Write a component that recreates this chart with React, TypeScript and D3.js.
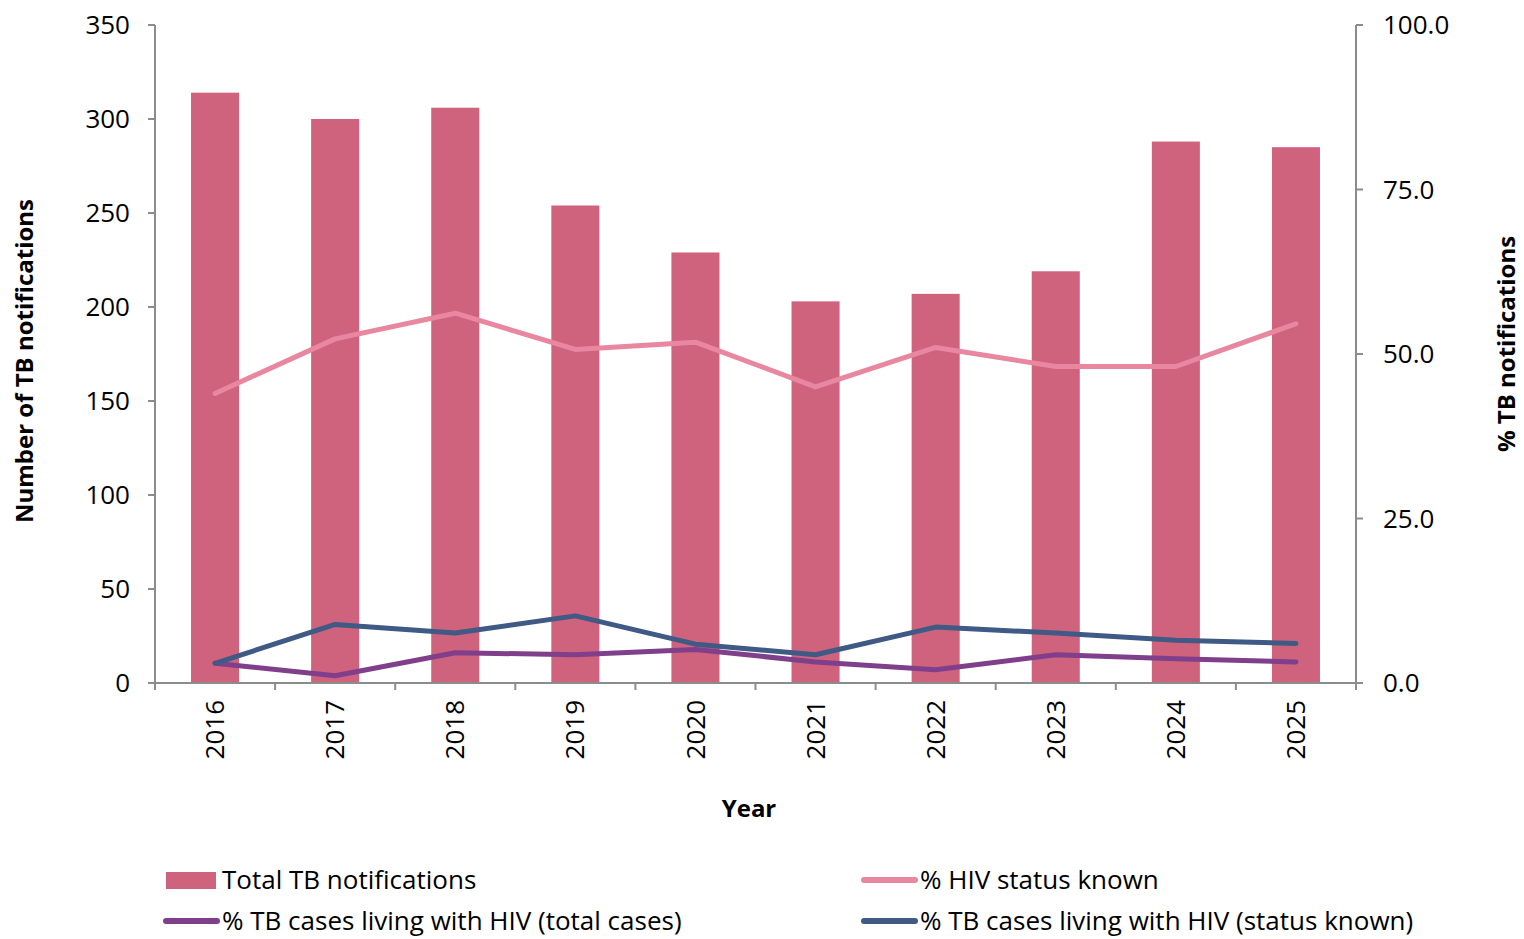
import React from "react";
import * as d3 from "d3";

const years = ["2016", "2017", "2018", "2019", "2020", "2021", "2022", "2023", "2024", "2025"];
const totalNotifications = [314, 300, 306, 254, 229, 203, 207, 219, 288, 285];
const hivStatusKnown = [44.0, 52.3, 56.2, 50.7, 51.8, 45.0, 51.0, 48.1, 48.1, 54.6];
const hivTotalCases = [3.0, 1.1, 4.6, 4.3, 5.1, 3.2, 2.0, 4.3, 3.7, 3.2];
const hivStatusKnownCases = [3.0, 8.9, 7.6, 10.2, 5.9, 4.3, 8.5, 7.6, 6.5, 6.0];
const leftTicks = [0, 50, 100, 150, 200, 250, 300, 350];
const rightTicks = [0, 25, 50, 75, 100];

const FONT = "'Open Sans', sans-serif";
const AXIS = "#8c8c8c";
const BAR = "#cf627c";
const PINK = "#e8879f";
const PURPLE = "#803f8b";
const BLUE = "#3e5a85";

export default function App() {
  const W = 1524, H = 939;
  const left = 155, right = 1356, top = 25, bottom = 683;
  const x = d3.scaleBand<string>().domain(years).range([left, right]).paddingInner(0.6).paddingOuter(0.3);
  const xc = (d: string) => (x(d) as number) + x.bandwidth() / 2;
  const yL = d3.scaleLinear().domain([0, 350]).range([bottom, top]);
  const yR = d3.scaleLinear().domain([0, 100]).range([bottom, top]);
  const step = (right - left) / years.length;
  const line = (vals: number[]) =>
    d3.line<number>().x((_, i) => xc(years[i])).y((v) => yR(v))(vals) as string;

  const legend = [
    { type: "rect", color: BAR, label: "Total TB notifications", x: 166, y: 880 },
    { type: "line", color: PINK, label: "% HIV status known", x: 864, y: 880 },
    { type: "line", color: PURPLE, label: "% TB cases living with HIV (total cases)", x: 166, y: 921 },
    { type: "line", color: BLUE, label: "% TB cases living with HIV (status known)", x: 864, y: 921 },
  ];
  const FS = 26;
  const BFS = 24;

  return (
    <svg width={W} height={H} style={{ position: "absolute", left: 0, top: 0, background: "#fff" }} fontFamily={FONT}>
      {years.map((yr, i) => (
        <rect key={yr} x={x(yr)} y={yL(totalNotifications[i])} width={x.bandwidth()} height={bottom - yL(totalNotifications[i])} fill={BAR} />
      ))}
      <path d={line(hivStatusKnown)} fill="none" stroke={PINK} strokeWidth={5} strokeLinejoin="round" strokeLinecap="round" />
      <path d={line(hivTotalCases)} fill="none" stroke={PURPLE} strokeWidth={5} strokeLinejoin="round" strokeLinecap="round" />
      <path d={line(hivStatusKnownCases)} fill="none" stroke={BLUE} strokeWidth={5} strokeLinejoin="round" strokeLinecap="round" />

      <line x1={left} x2={left} y1={top} y2={bottom} stroke={AXIS} strokeWidth={2} />
      {leftTicks.map((t) => (
        <g key={t}>
          <line x1={left - 7} x2={left} y1={yL(t)} y2={yL(t)} stroke={AXIS} strokeWidth={2} />
          <text x={130} y={yL(t)} dy="0.35em" textAnchor="end" fontSize={FS} fill="#000">{t}</text>
        </g>
      ))}
      <line x1={right} x2={right} y1={top} y2={bottom} stroke={AXIS} strokeWidth={2} />
      {rightTicks.map((t) => (
        <g key={t}>
          <line x1={right} x2={right + 7} y1={yR(t)} y2={yR(t)} stroke={AXIS} strokeWidth={2} />
          <text x={1383} y={yR(t)} dy="0.35em" textAnchor="start" fontSize={FS} fill="#000">{t.toFixed(1)}</text>
        </g>
      ))}
      <line x1={left} x2={right} y1={bottom} y2={bottom} stroke={AXIS} strokeWidth={2} />
      {d3.range(years.length + 1).map((i) => (
        <line key={i} x1={left + i * step} x2={left + i * step} y1={bottom} y2={bottom + 7} stroke={AXIS} strokeWidth={2} />
      ))}
      {years.map((yr) => (
        <text key={yr} transform={`translate(${xc(yr)},700) rotate(-90)`} dy="0.35em" textAnchor="end" fontSize={FS} fill="#000">{yr}</text>
      ))}

      <text transform="translate(25,361) rotate(-90)" dy="0.35em" textAnchor="middle" fontSize={BFS} fontWeight="bold" fill="#000">Number of TB notifications</text>
      <text transform="translate(1507,344) rotate(-90)" dy="0.35em" textAnchor="middle" fontSize={BFS} fontWeight="bold" fill="#000">% TB notifications</text>
      <text x={749} y={809} dy="0.35em" textAnchor="middle" fontSize={BFS} fontWeight="bold" fill="#000">Year</text>

      {legend.map((l) => (
        <g key={l.label}>
          {l.type === "rect" ? (
            <rect x={l.x} y={l.y - 8} width={50} height={17} fill={l.color} />
          ) : (
            <line x1={l.x} x2={l.x + 51} y1={l.y} y2={l.y} stroke={l.color} strokeWidth={6} strokeLinecap="round" />
          )}
          <text x={l.x + 56} y={l.y} dy="0.35em" fontSize={FS} fill="#000">{l.label}</text>
        </g>
      ))}
    </svg>
  );
}
